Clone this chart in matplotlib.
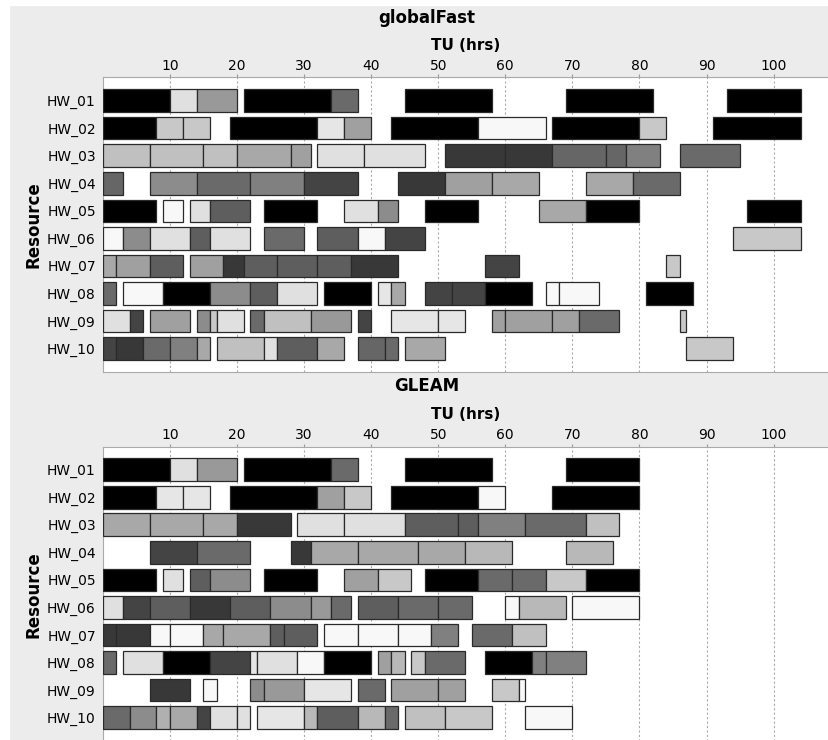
import matplotlib
matplotlib.use('Agg')
import matplotlib.pyplot as plt
from matplotlib.patches import Rectangle

resources = ['HW_01', 'HW_02', 'HW_03', 'HW_04', 'HW_05',
             'HW_06', 'HW_07', 'HW_08', 'HW_09', 'HW_10']
ticks = [10, 20, 30, 40, 50, 60, 70, 80, 90, 100]

# each row: (start, end, grey level) in TU hours
global_fast = [
    [(0, 10, '00'), (10, 14, 'e0'), (14, 20, '99'), (21, 34, '00'), (34, 38, '6a'), (45, 58, '00'),
     (69, 82, '00'), (93, 104, '00')],
    [(0, 8, '00'), (8, 12, 'c8'), (12, 16, 'c8'), (19, 32, '00'), (32, 36, 'e6'), (36, 40, 'a0'),
     (43, 56, '00'), (56, 66, 'f8'), (67, 80, '00'), (80, 84, 'c8'), (91, 104, '00')],
    [(0, 7, 'c0'), (7, 15, 'c0'), (15, 20, 'c0'), (20, 28, 'a8'), (28, 31, 'a0'), (32, 39, 'e0'),
     (39, 48, 'e0'), (51, 60, '38'), (60, 67, '38'), (67, 75, '66'), (75, 78, '66'), (78, 83, '80'),
     (86, 95, '6a')],
    [(0, 3, '66'), (7, 14, '8c'), (14, 22, '6a'), (22, 30, '80'), (30, 38, '44'), (44, 51, '38'),
     (51, 58, 'a0'), (58, 65, 'a8'), (72, 79, 'a8'), (79, 86, '6a')],
    [(0, 8, '00'), (9, 12, 'f8'), (13, 16, 'e0'), (16, 22, '5e'), (24, 32, '00'), (36, 41, 'e0'),
     (41, 44, '8c'), (48, 56, '00'), (65, 72, 'a8'), (72, 80, '00'), (96, 104, '00')],
    [(0, 3, 'f8'), (3, 7, '8c'), (7, 13, 'e0'), (13, 16, '5e'), (16, 22, 'e0'), (24, 30, '6a'),
     (32, 38, '5e'), (38, 42, 'f8'), (42, 48, '44'), (94, 104, 'c8')],
    [(0, 2, 'a8'), (2, 7, 'a0'), (7, 12, '5e'), (13, 18, 'a0'), (18, 21, '38'), (21, 26, '5e'),
     (26, 32, '5e'), (32, 37, '5e'), (37, 44, '38'), (57, 62, '44'), (84, 86, 'c8')],
    [(0, 2, '6a'), (3, 9, 'f8'), (9, 16, '00'), (16, 22, '8c'), (22, 26, '5e'), (26, 32, 'e0'),
     (33, 40, '00'), (41, 43, 'e6'), (43, 45, 'a8'), (48, 52, '44'), (52, 57, '44'), (57, 64, '00'),
     (66, 68, 'f8'), (68, 74, 'f8'), (81, 88, '00')],
    [(0, 4, 'e0'), (4, 6, '44'), (7, 13, 'a0'), (14, 16, '8c'), (16, 17, 'c8'), (17, 21, 'e0'),
     (22, 24, '6a'), (24, 31, 'c0'), (31, 37, '99'), (38, 40, '44'), (43, 50, 'e6'), (50, 54, 'e6'),
     (58, 60, 'a0'), (60, 67, 'a0'), (67, 71, 'a0'), (71, 77, '6a'), (86, 87, 'c8')],
    [(0, 2, '44'), (2, 6, '38'), (6, 10, '6a'), (10, 14, '80'), (14, 16, 'a8'), (17, 24, 'c0'),
     (24, 26, 'e0'), (26, 32, '5e'), (32, 36, 'a8'), (38, 42, '66'), (42, 44, '6a'), (45, 51, 'a8'),
     (87, 94, 'c8')],
]

gleam = [
    [(0, 10, '00'), (10, 14, 'e0'), (14, 20, '99'), (21, 34, '00'), (34, 38, '6a'), (45, 58, '00'),
     (69, 80, '00')],
    [(0, 8, '00'), (8, 12, 'e6'), (12, 16, 'e6'), (19, 32, '00'), (32, 36, 'a0'), (36, 40, 'c8'),
     (43, 56, '00'), (56, 60, 'f8'), (67, 80, '00')],
    [(0, 7, 'a8'), (7, 15, 'a8'), (15, 20, 'a8'), (20, 28, '38'), (29, 36, 'e0'), (36, 45, 'e0'),
     (45, 53, '5e'), (53, 56, '5e'), (56, 63, '80'), (63, 72, '6a'), (72, 77, 'c0')],
    [(7, 14, '44'), (14, 22, '6a'), (28, 31, '38'), (31, 38, 'a8'), (38, 47, 'a8'), (47, 54, 'a8'),
     (54, 61, 'b8'), (69, 76, 'b8')],
    [(0, 8, '00'), (9, 12, 'e0'), (13, 16, '5e'), (16, 22, '8c'), (24, 32, '00'), (36, 41, 'a0'),
     (41, 46, 'c8'), (48, 56, '00'), (56, 61, '6a'), (61, 66, '6a'), (66, 72, 'c8'), (72, 80, '00')],
    [(0, 3, 'e0'), (3, 7, '44'), (7, 13, '5e'), (13, 19, '38'), (19, 25, '5e'), (25, 31, '8c'),
     (31, 34, '99'), (34, 37, '6a'), (38, 44, '5e'), (44, 50, '6a'), (50, 55, '6a'), (60, 62, 'f8'),
     (62, 69, 'b8'), (70, 80, 'f8')],
    [(0, 2, '38'), (2, 7, '38'), (7, 10, 'f8'), (10, 15, 'f8'), (15, 18, 'a8'), (18, 25, 'a8'),
     (25, 27, '5e'), (27, 32, '5e'), (33, 38, 'f8'), (38, 44, 'f8'), (44, 49, 'f8'), (49, 53, '80'),
     (55, 61, '6a'), (61, 66, 'c0')],
    [(0, 2, '6a'), (3, 9, 'e0'), (9, 16, '00'), (16, 22, '44'), (22, 23, 'e6'), (23, 29, 'e0'),
     (29, 33, 'f8'), (33, 40, '00'), (41, 43, 'a0'), (43, 45, 'b8'), (46, 48, 'c8'), (48, 54, '6a'),
     (57, 64, '00'), (64, 66, '80'), (66, 72, '80')],
    [(7, 13, '38'), (15, 17, 'f8'), (22, 24, '8c'), (24, 30, '99'), (30, 37, 'e6'), (38, 42, '6a'),
     (43, 50, 'a0'), (50, 54, 'a0'), (58, 62, 'c8'), (62, 63, 'f8')],
    [(0, 4, '6a'), (4, 8, '8c'), (8, 10, 'b0'), (10, 14, 'a8'), (14, 16, '44'), (16, 20, 'e0'),
     (20, 22, 'e0'), (23, 30, 'e6'), (30, 32, 'b8'), (32, 38, '5e'), (38, 42, 'b8'), (42, 44, '6a'),
     (45, 51, 'c0'), (51, 58, 'c8'), (63, 70, 'f8')],
]

fig = plt.figure(figsize=(8.29, 7.4), dpi=100, facecolor='#ececec')
# thin white margin at top / left like the screenshot
fig.patches.append(Rectangle((0, 0.993), 1, 0.01, transform=fig.transFigure, color='white', zorder=-1))
fig.patches.append(Rectangle((0, 0), 0.011, 1, transform=fig.transFigure, color='white', zorder=-1))


def draw_panel(ax, rows, title, title_y, label_y, res_y):
    for i, row in enumerate(rows):
        for start, end, g in row:
            ax.barh(i, end - start, left=start, height=0.82, color='#' + g * 3,
                    edgecolor='#2a2a2a', linewidth=0.9, zorder=3)
    ax.set_xlim(0, 111.2)
    ax.set_ylim(9.84, -0.84)
    ax.set_yticks(range(len(resources)))
    ax.set_yticklabels(resources, fontsize=10)
    ax.xaxis.tick_top()
    ax.set_xticks(ticks)
    ax.set_xticklabels([str(t) for t in ticks], fontsize=10)
    ax.tick_params(axis='x', length=2, pad=1.5, color='#999999')
    ax.tick_params(axis='y', length=0, pad=5)
    ax.grid(axis='x', color='#aaaaaa', linestyle=(0, (2, 2)), linewidth=0.8, zorder=0)
    for s in ax.spines.values():
        s.set_color('#aaaaaa')
    ax.set_facecolor('white')
    fig.text(0.515, title_y, title, fontsize=12, fontweight='bold', ha='center', va='center')
    fig.text(0.562, label_y, 'TU (hrs)', fontsize=11, fontweight='bold', ha='center', va='center')
    fig.text(0.040, res_y, 'Resource', fontsize=12, fontweight='bold', rotation=90,
             ha='center', va='center')


ax1 = fig.add_axes([0.1239, 0.4977, 0.9, 0.3976])
draw_panel(ax1, global_fast, 'globalFast', 0.9757, 0.939, 0.697)

ax2 = fig.add_axes([0.1239, -0.001, 0.9, 0.3976])
draw_panel(ax2, gleam, 'GLEAM', 0.4784, 0.4405, 0.197)

fig.savefig('out.png', dpi=100, facecolor=fig.get_facecolor())
